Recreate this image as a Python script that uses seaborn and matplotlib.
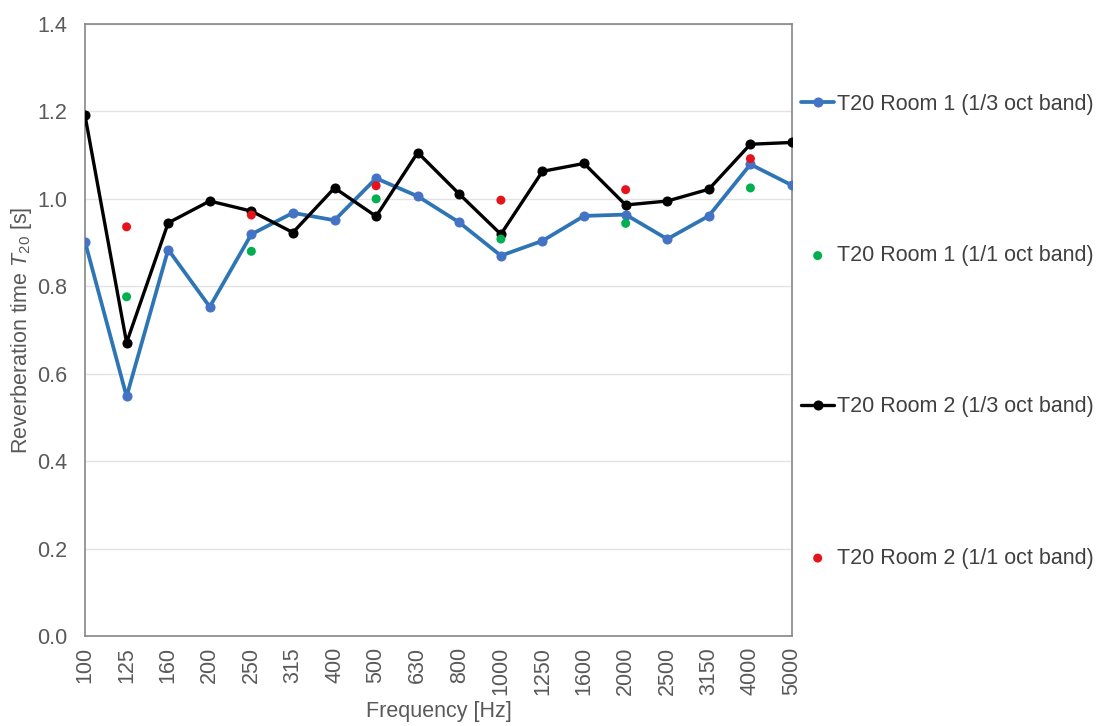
import matplotlib
matplotlib.use("Agg")
import matplotlib.pyplot as plt
import seaborn as sns
import pandas as pd
from matplotlib.ticker import FormatStrFormatter

# 1/3-octave band centre frequencies (Hz)
bands = ["100", "125", "160", "200", "250", "315", "400", "500", "630",
         "800", "1000", "1250", "1600", "2000", "2500", "3150", "4000", "5000"]

# Reverberation time T20 [s], 1/3-octave bands
room1_third = [0.902, 0.548, 0.884, 0.753, 0.919, 0.968, 0.951, 1.047, 1.006,
               0.946, 0.870, 0.904, 0.961, 0.964, 0.908, 0.961, 1.079, 1.031]
room2_third = [1.191, 0.671, 0.945, 0.995, 0.972, 0.923, 1.025, 0.960, 1.106,
               1.011, 0.919, 1.063, 1.081, 0.986, 0.995, 1.022, 1.125, 1.129]

# Reverberation time T20 [s], 1/1-octave bands
octave_bands = ["125", "250", "500", "1000", "2000", "4000"]
room1_octave = [0.776, 0.880, 1.000, 0.908, 0.944, 1.025]
room2_octave = [0.936, 0.963, 1.030, 0.997, 1.021, 1.092]

sns.set_theme(style="white")
plt.rcParams["font.family"] = ["Liberation Sans", "DejaVu Sans"]
plt.rcParams["mathtext.fontset"] = "custom"
plt.rcParams["mathtext.rm"] = "Liberation Sans"
plt.rcParams["mathtext.it"] = "Liberation Sans:italic"

TEXT = "#595959"
FS = 15.5

pos = {b: i for i, b in enumerate(bands)}
third = pd.DataFrame({"x": [pos[b] for b in bands],
                      "r1": room1_third, "r2": room2_third})
octave = pd.DataFrame({"x": [pos[b] for b in octave_bands],
                       "r1": room1_octave, "r2": room2_octave})

fig = plt.figure(figsize=(10.99, 7.26), dpi=100)
ax = fig.add_axes([85 / 1099, 1 - 636 / 726, (792 - 85) / 1099, (636 - 24) / 726])

sns.lineplot(data=third, x="x", y="r1", ax=ax, color="#2E75B6", linewidth=2.7,
             marker="o", markersize=6.5, markerfacecolor="#4472C4",
             markeredgecolor="#4472C4", label="T20 Room 1 (1/3 oct band)", zorder=3)
sns.scatterplot(data=octave, x="x", y="r1", ax=ax, color="#00B050", s=42,
                edgecolor="none", label="T20 Room 1 (1/1 oct band)", zorder=5)
sns.lineplot(data=third, x="x", y="r2", ax=ax, color="black", linewidth=2.4,
             marker="o", markersize=6.5, markeredgecolor="black",
             label="T20 Room 2 (1/3 oct band)", zorder=4)
sns.scatterplot(data=octave, x="x", y="r2", ax=ax, color="#E5141B", s=42,
                edgecolor="none", label="T20 Room 2 (1/1 oct band)", zorder=5)

ax.set_xlim(0, len(bands) - 1)
ax.set_ylim(0, 1.4)
ax.set_xticks(range(len(bands)))
ax.set_xticklabels(bands, rotation=90)
ax.set_yticks([0.0, 0.2, 0.4, 0.6, 0.8, 1.0, 1.2, 1.4])
ax.yaxis.set_major_formatter(FormatStrFormatter("%.1f"))
ax.tick_params(axis="both", length=0, labelsize=FS, labelcolor=TEXT)
ax.tick_params(axis="y", pad=13)
ax.tick_params(axis="x", pad=8)

ax.grid(axis="y", color="#E3E3E3", linewidth=1.0)
ax.set_axisbelow(True)
for sp in ax.spines.values():
    sp.set_visible(True)
    sp.set_color("#868686")
    sp.set_linewidth(1.2)

ax.set_xlabel("Frequency [Hz]", fontsize=FS, color=TEXT, labelpad=4)
ax.set_ylabel("Reverberation time $T_{20}$ [s]", fontsize=FS, color=TEXT, labelpad=2)

leg = ax.legend(loc="upper left", bbox_to_anchor=(801 / 1099, 1 - 94 / 726),
                bbox_transform=fig.transFigure, frameon=False, fontsize=FS,
                borderpad=0, borderaxespad=0, handlelength=1.55,
                handletextpad=0.1, labelspacing=6.05)
for t in leg.get_texts():
    t.set_color("#404040")

fig.savefig("out.png", dpi=100)
